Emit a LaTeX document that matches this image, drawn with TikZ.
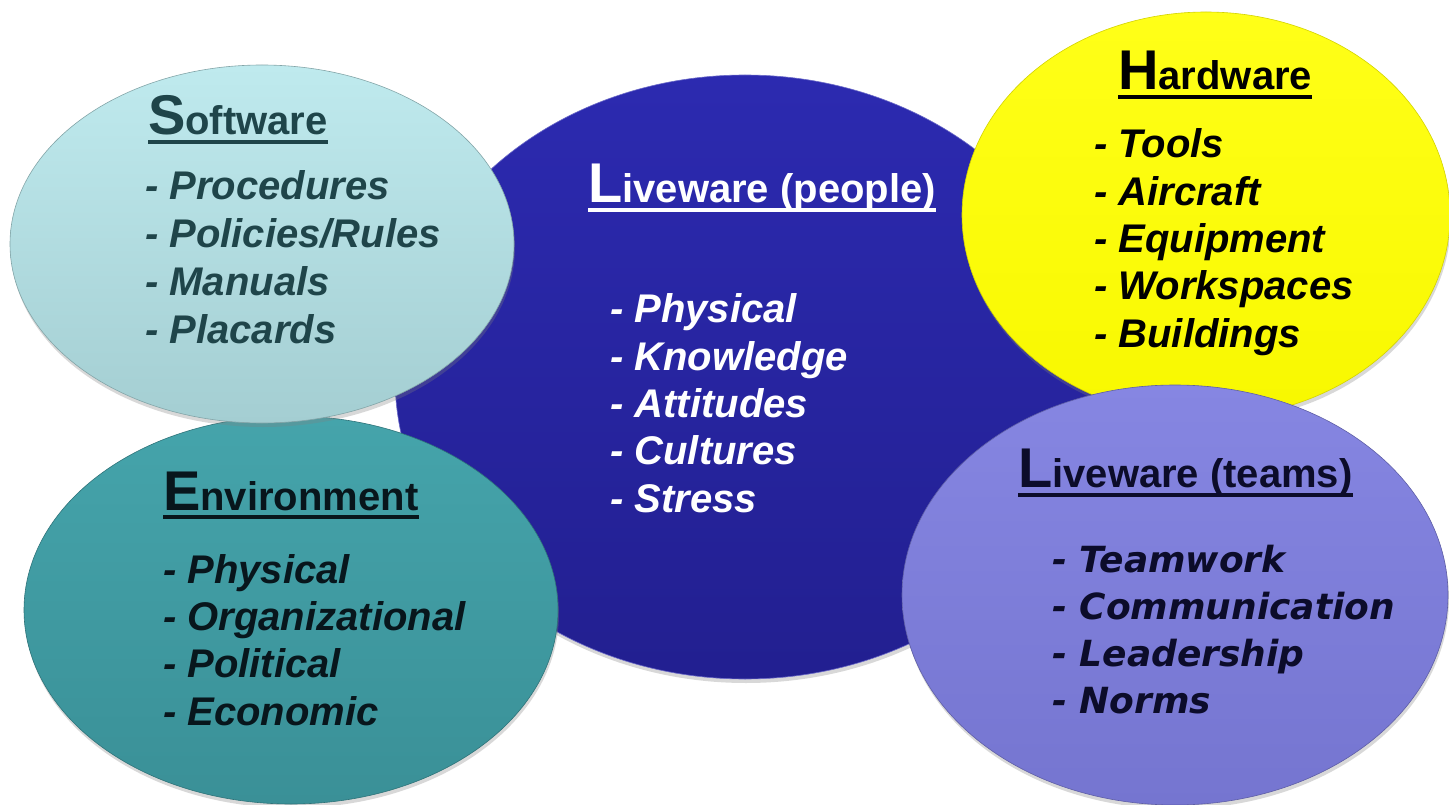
\documentclass[tikz,border=0pt]{standalone}
\usepackage{fontspec}
\setmainfont{Liberation Sans}
\newfontfamily\dejavu{DejaVu Sans}
\usetikzlibrary{shapes.geometric,shadows}
\definecolor{peopleTop}{HTML}{2C2AB0}
\definecolor{peopleBot}{HTML}{221F90}
\definecolor{softTop}{HTML}{BFEAEE}
\definecolor{softBot}{HTML}{A4CED2}
\definecolor{envTop}{HTML}{45A4AB}
\definecolor{envBot}{HTML}{3A9097}
\definecolor{hardTop}{HTML}{FFFF18}
\definecolor{hardBot}{HTML}{F8F800}
\definecolor{teamTop}{HTML}{8686E2}
\definecolor{teamBot}{HTML}{7575D0}
\definecolor{softTxt}{HTML}{1F454A}
\definecolor{envTxt}{HTML}{08161C}
\definecolor{teamTxt}{HTML}{0C0C2A}
\tikzset{
  blob/.style={shape=ellipse, inner sep=0pt, line width=0.6pt,
    drop shadow={shadow xshift=1pt, shadow yshift=-4pt, opacity=0.3}},
  ttl/.style={inner sep=0pt, anchor=base west, font=\bfseries\fontsize{40}{48}\selectfont},
  itm/.style={inner sep=0pt, anchor=base west, font=\bfseries\itshape\fontsize{40}{48}\selectfont},
  titm/.style={inner sep=0pt, anchor=base west, font=\dejavu\bfseries\itshape\fontsize{36}{44}\selectfont},
  uline/.style={line width=4pt}
}
\newcommand{\initcap}[1]{{\fontsize{56}{60}\selectfont #1}}
\begin{document}
\begin{tikzpicture}[x=1pt,y=-1pt]
\useasboundingbox[fill=white] (0,0) rectangle (1449,805);
% ellipses
\node[blob, minimum width=700pt, minimum height=604pt, top color=peopleTop, bottom color=peopleBot, draw=peopleTop!70!white] (people) at (745,377) {};
\node[blob, minimum width=534pt, minimum height=388pt, top color=envTop, bottom color=envBot, draw=envBot!80!black] (env) at (291,610) {};
\node[blob, minimum width=504pt, minimum height=358pt, top color=softTop, bottom color=softBot, draw=softBot!80!black] (soft) at (262,244) {};
\node[blob, minimum width=488pt, minimum height=406pt, top color=hardTop, bottom color=hardBot, draw=hardBot!85!black] (hard) at (1206,215) {};
\node[blob, minimum width=546pt, minimum height=420pt, top color=teamTop, bottom color=teamBot, draw=teamBot!80!black] (team) at (1175,595) {};
% Software
\node[ttl, text=softTxt] (swT) at (148,135) {\initcap{S}oftware};
\draw[uline, softTxt] ([yshift=-7pt]swT.base west) -- ([yshift=-7pt]swT.base east);
\node[itm, text=softTxt] (sw1) at (145,200) {- Procedures};
\node[itm, text=softTxt] (sw2) at (145,247.7) {- Policies/Rules};
\node[itm, text=softTxt] (sw3) at (145,295.3) {- Manuals};
\node[itm, text=softTxt] (sw4) at (145,343) {- Placards};
% Hardware
\node[ttl, text=black] (hwT) at (1118,90) {\initcap{H}ardware};
\draw[uline, black] ([yshift=-7pt]hwT.base west) -- ([yshift=-7pt]hwT.base east);
\node[itm, text=black] (hw1) at (1094,158) {- Tools};
\node[itm, text=black] (hw2) at (1094,205.3) {- Aircraft};
\node[itm, text=black] (hw3) at (1094,252.5) {- Equipment};
\node[itm, text=black] (hw4) at (1094,299.8) {- Workspaces};
\node[itm, text=black] (hw5) at (1094,347) {- Buildings};
% Liveware (people)
\node[ttl, text=white] (lpT) at (588,203) {\initcap{L}iveware (people)};
\draw[uline, white] ([yshift=-7.5pt]lpT.base west) -- ([yshift=-7.5pt]lpT.base east);
\node[itm, text=white] (lp1) at (610,323) {- Physical};
\node[itm, text=white] (lp2) at (610,370.3) {- Knowledge};
\node[itm, text=white] (lp3) at (610,417.5) {- Attitudes};
\node[itm, text=white] (lp4) at (610,464.8) {- Cultures};
\node[itm, text=white] (lp5) at (610,512) {- Stress};
% Environment
\node[ttl, text=envTxt] (enT) at (163,510) {\initcap{E}nvironment};
\draw[uline, envTxt] ([yshift=-7pt]enT.base west) -- ([yshift=-7pt]enT.base east);
\node[itm, text=envTxt] (en1) at (163,583.3) {- Physical};
\node[itm, text=envTxt] (en2) at (163,630.5) {- Organizational};
\node[itm, text=envTxt] (en3) at (163,677.7) {- Political};
\node[itm, text=envTxt] (en4) at (163,725) {- Economic};
% Liveware (teams)
\node[ttl, text=teamTxt] (ltT) at (1018,487) {\initcap{L}iveware (teams)};
\draw[uline, teamTxt] ([yshift=-7.5pt]ltT.base west) -- ([yshift=-7.5pt]ltT.base east);
\node[titm, text=teamTxt] (lt1) at (1052,572) {- Teamwork};
\node[titm, text=teamTxt] (lt2) at (1052,619) {- Communication};
\node[titm, text=teamTxt] (lt3) at (1052,666) {- Leadership};
\node[titm, text=teamTxt] (lt4) at (1052,713) {- Norms};
\end{tikzpicture}
\end{document}
